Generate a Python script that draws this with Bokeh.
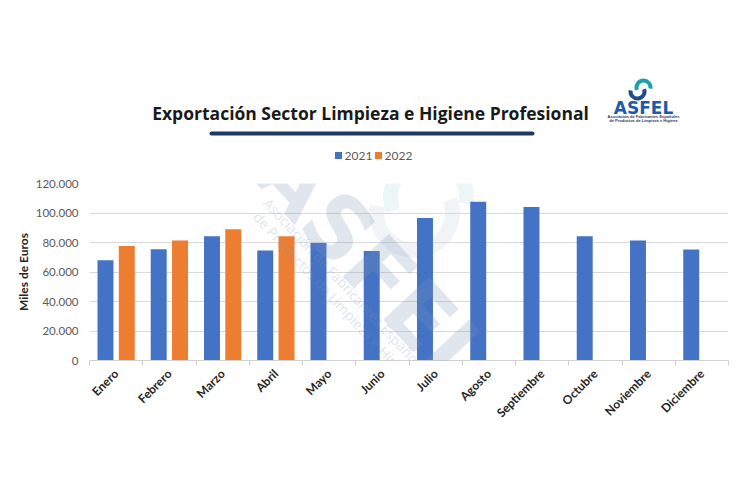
import math
from bokeh.plotting import figure
from bokeh.models import Range1d, FixedTicker, Label
from bokeh.core.properties import value
from bokeh.embed import file_html
from bokeh.resources import INLINE

# ---- data ----
months = ["Enero", "Febrero", "Marzo", "Abril", "Mayo", "Junio", "Julio",
          "Agosto", "Septiembre", "Octubre", "Noviembre", "Diciembre"]
values_2021 = [68000, 75500, 84200, 74600, 79700, 74300, 96600,
               107700, 104100, 84200, 81300, 75200]
values_2022 = [77700, 81300, 89000, 84200]
series_names = ["2021", "2022"]
series_colors = ["#4472C4", "#ED7D31"]
y_ticks = [0, 20000, 40000, 60000, 80000, 100000, 120000]
y_tick_labels = ["0", "20.000", "40.000", "60.000", "80.000", "100.000", "120.000"]
title_text = "Exportación Sector Limpieza e Higiene Profesional"
y_axis_title = "Miles de Euros"
logo_lines = ["Asociación de Fabricantes Españoles", "de Productos de Limpieza e Higiene"]

W, H = 750, 500
BL, BR, BT, BB = 89, 22, 183, 140  # frame borders

n = len(months)
p = figure(width=W, height=H, x_range=Range1d(0, n), y_range=Range1d(0, 120000),
           output_backend="svg", toolbar_location=None,
           min_border_left=BL, min_border_right=BR, min_border_top=BT, min_border_bottom=BB)
p.outline_line_color = None
p.background_fill_color = "white"
p.border_fill_color = "white"

# page-pixel ranges for the decorative header (y downward)
p.extra_x_ranges = {"px": Range1d(BL, W - BR)}
p.extra_y_ranges = {"px": Range1d(H - BB, BT)}
PX = dict(x_range_name="px", y_range_name="px", level="overlay")

# ---- watermark swirl (behind bars) ----
p.arc(x=[428], y=[197], radius=38, start_angle=math.radians(200), end_angle=math.radians(-10),
      direction="clock", line_color="#a9d8d4", line_alpha=0.22, line_width=15,
      x_range_name="px", y_range_name="px", level="underlay")
p.arc(x=[414], y=[212], radius=38, start_angle=math.radians(20), end_angle=math.radians(170),
      direction="clock", line_color="#a8b8d0", line_alpha=0.16, line_width=15,
      x_range_name="px", y_range_name="px", level="underlay")

# ---- bars ----
centers = [i + 0.5 for i in range(n)]
p.vbar(x=[c - 0.2 for c in centers], top=values_2021, width=0.3,
       fill_color=series_colors[0], line_color=None)
p.vbar(x=[c + 0.2 for c in centers[:len(values_2022)]], top=values_2022, width=0.3,
       fill_color=series_colors[1], line_color=None)

# ---- header ----
p.text(x=[370], y=[112], text=[title_text], text_font=value("Open Sans"),
       text_font_size="17.5px", text_font_style="bold", text_color="#1a1a1a",
       text_align="center", text_baseline="alphabetic", **PX)
p.segment(x0=[211], y0=[133], x1=[532], y1=[133], line_color="#1F3864",
          line_width=4, line_cap="round", **PX)

leg_x = [338, 378]
p.rect(x=leg_x, y=[155, 155], width=7, height=7, fill_color=series_colors,
       line_color=None, **PX)
p.text(x=[x + 6 for x in leg_x], y=[155, 155], text=series_names,
       text_font=value("Lato"), text_font_size="12px", text_color="#595959",
       text_align="left", text_baseline="middle", **PX)

# logo
p.arc(x=[643], y=[87], radius=7, start_angle=math.radians(200), end_angle=math.radians(-10),
      direction="clock", line_color="#1BA3A9", line_width=4, **PX)
p.arc(x=[637], y=[91], radius=7, start_angle=math.radians(20), end_angle=math.radians(170),
      direction="clock", line_color="#1F4E8C", line_width=4, **PX)
p.text(x=[643], y=[107], text=["ASFEL"], text_font=value("DejaVu Sans"),
       text_font_size="17px", text_font_style="bold", text_color="#1F5AA6",
       text_align="center", text_baseline="alphabetic", **PX)
p.text(x=[643, 643], y=[116, 120], text=logo_lines,
       text_font=value("Liberation Sans"), text_font_size="4px", text_font_style="bold",
       text_color="#1F3864", text_align="center", text_baseline="middle", **PX)

# ---- watermark texts ----
wm_angle = -math.radians(47)
p.add_layout(Label(x=(374 - BL) / 53.25, y=(360 - 266) / 1.475 * 1000, text="ASFEL",
                   text_font="DejaVu Sans", text_font_size="86px", text_font_style="bold",
                   text_color="#7f95b8", text_alpha=0.24, angle=wm_angle,
                   text_align="center", text_baseline="middle"))
for (sx, sy), t in zip([(347, 287), (335, 299)], logo_lines):
    p.add_layout(Label(x=(sx - BL) / 53.25, y=(360 - sy) / 1.475 * 1000, text=t,
                       text_font="Open Sans", text_font_size="14px",
                       text_color="#7f95b8", text_alpha=0.28, angle=wm_angle,
                       text_align="center", text_baseline="middle"))

# ---- x axis ----
xa = p.xaxis[0]
xa.ticker = FixedTicker(ticks=centers, minor_ticks=list(range(n + 1)))
xa.major_label_overrides = {c: m for c, m in zip(centers, months)}
xa.major_label_orientation = math.pi / 4
xa.major_label_text_font = "Lato"
xa.major_label_text_font_size = "12px"
xa.major_label_text_font_style = "bold"
xa.major_label_text_color = "#262626"
xa.major_tick_line_color = None
xa.major_tick_in = 0
xa.major_tick_out = 0
xa.minor_tick_line_color = "#d0d0d0"
xa.minor_tick_in = 0
xa.minor_tick_out = 5
xa.axis_line_color = "#d0d0d0"
xa.major_label_standoff = 6

# ---- y axis ----
ya = p.yaxis[0]
ya.ticker = FixedTicker(ticks=y_ticks)
ya.major_label_overrides = {t: l for t, l in zip(y_ticks, y_tick_labels)}
ya.major_label_text_font = "Lato"
ya.major_label_text_font_size = "11.5px"
ya.major_label_text_color = "#595959"
ya.axis_line_color = None
ya.major_tick_line_color = None
ya.minor_tick_line_color = None
ya.major_tick_in = 0
ya.major_tick_out = 0
ya.major_label_standoff = 11
ya.axis_label = y_axis_title
ya.axis_label_text_font = "Lato"
ya.axis_label_text_font_size = "12px"
ya.axis_label_text_font_style = "bold"
ya.axis_label_text_color = "#262626"
ya.axis_label_standoff = 2

p.xgrid.visible = False
p.ygrid.ticker = FixedTicker(ticks=y_ticks)
p.ygrid.grid_line_color = "#d9d9d9"
p.ygrid.grid_line_width = 1

open("out.html", "w").write(file_html(p, INLINE))
